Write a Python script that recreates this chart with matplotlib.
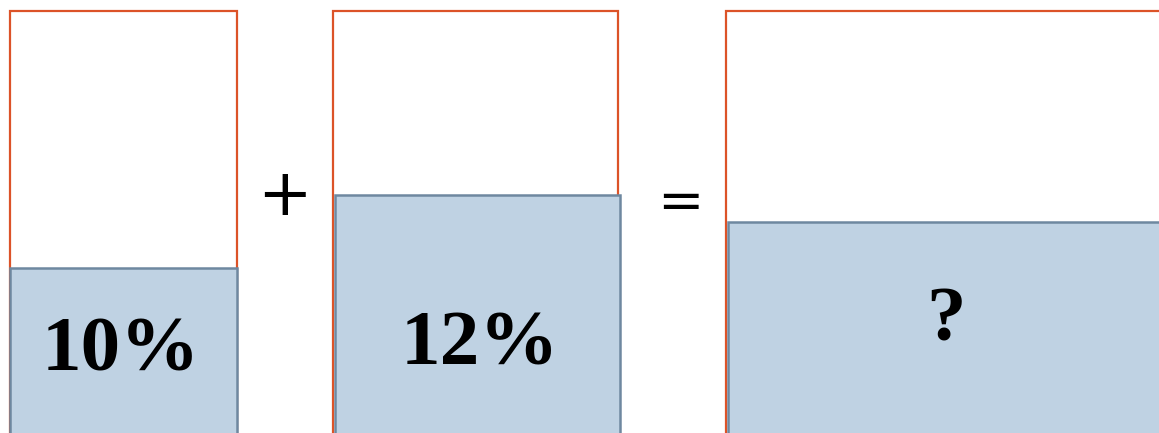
import matplotlib
matplotlib.use("Agg")
import matplotlib.pyplot as plt

# Data
labels = ["10%", "12%", "?"]
operators = ["+", "="]
container_left = [10, 333, 726]
container_width = [227, 285, 460]
container_top = [422, 422, 422]
fill_left = [10, 335, 728]
fill_width = [227, 285, 460]
fill_level = [165, 238, 211]

W, H = 1159, 433
fig = plt.figure(figsize=(W / 100, H / 100), dpi=100)
ax = fig.add_axes([0, 0, 1, 1])
ax.set_xlim(0, W)
ax.set_ylim(0, H)
ax.axis("off")

orange = "#DC5328"
fill_c = "#BFD2E3"
edge_c = "#6E88A0"

base = -10
# containers
ax.bar(container_left, [t - base for t in container_top], width=container_width,
       bottom=base, align="edge", fill=False, edgecolor=orange, linewidth=1.6, zorder=1)
# fills
ax.bar(fill_left, [f - base for f in fill_level], width=fill_width, bottom=base,
       align="edge", color=fill_c, edgecolor=edge_c, linewidth=1.8, zorder=2)

label_pos = [(121, H - 352), (480, H - 346), (946, H - 322)]
for (x, y), t in zip(label_pos, labels):
    ax.text(x, y, t, ha="center", va="center", fontsize=57, fontweight="bold",
            family="Liberation Serif", color="black", zorder=3)

op_pos = [(284, H - 197), (680, H - 204)]
op_size = [47, 40]
for (x, y), t, s in zip(op_pos, operators, op_size):
    ax.text(x, y, t, ha="center", va="center", fontsize=s,
            family="DejaVu Sans", color="black", zorder=3)

fig.savefig("out.png", dpi=100)
